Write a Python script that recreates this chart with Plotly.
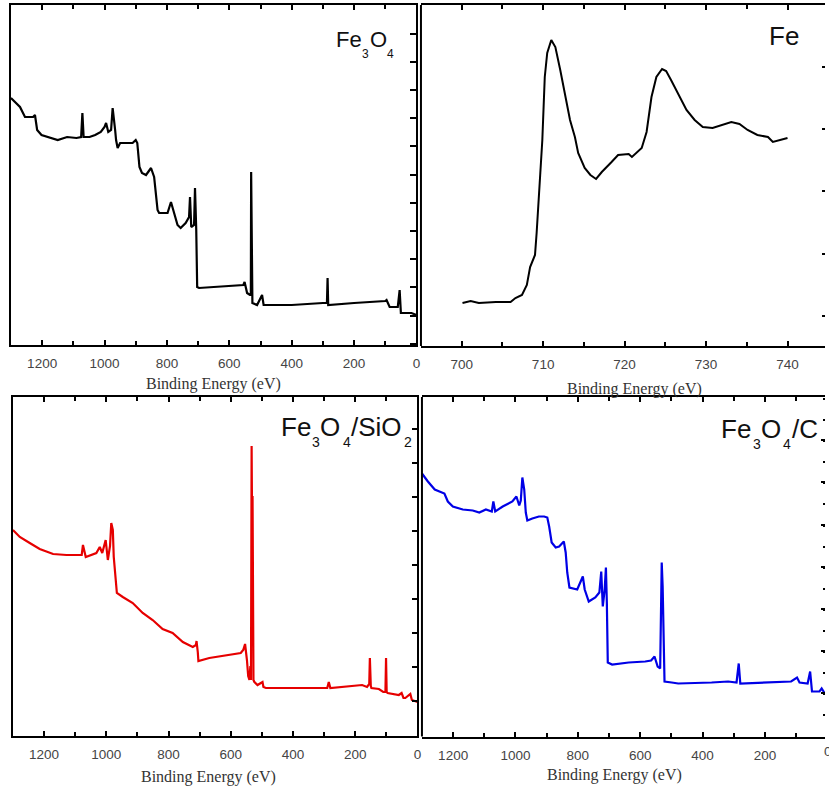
import plotly.graph_objects as go

W, H = 829, 792

# ---------------- data (binding energy in eV, intensity in a.u.) ----------------
fe3o4_be = [1300, 1285, 1271, 1255, 1240, 1229, 1223, 1216, 1202, 1180, 1150, 1120, 1090, 1075, 1071, 1067,
            1048, 1030, 1012, 1000, 995, 988, 979, 974, 970, 966, 963, 958, 950, 930, 910, 900, 895, 888,
            880, 867, 851, 841, 835, 830, 825, 810, 798, 787, 777, 766, 756, 740, 729, 726, 722, 713, 710,
            706, 703, 697, 650, 600, 570, 555, 551, 543, 534, 531, 530, 528, 526, 511, 495, 490, 400, 300,
            287, 285, 283, 200, 100, 96, 86, 60, 56, 54, 50, 30, 16, 0]
fe3o4_int = [247, 242, 238, 228, 228, 228, 230, 215, 210, 208, 205, 208, 207, 208, 232, 208,
             208, 210, 213, 218, 222, 213, 215, 237, 228, 215, 205, 197, 202, 202, 202, 205, 202, 178,
             172, 170, 177, 168, 150, 135, 132, 132, 132, 143, 132, 120, 117, 122, 128, 148, 118, 120, 157,
             115, 58, 57, 58, 59, 60, 60, 63, 52, 50, 50, 173, 60, 42, 40, 50, 40, 40, 42,
             42, 67, 40, 42, 44, 45, 38, 38, 47, 55, 32, 32, 32, 30]

fe2p_be = [700.1, 701.1, 702.1, 704.2, 706.0, 706.6, 707.4, 708.0, 708.4, 709.0, 709.2, 709.5, 709.9, 710.2,
           710.5, 711.0, 711.5, 712.1, 712.7, 713.3, 713.9, 714.3, 715.1, 715.8, 716.5, 717.2, 718.4, 719.2,
           720.5, 720.9, 722.1, 722.7, 723.3, 723.9, 724.6, 725.1, 725.7, 726.3, 726.9, 727.6, 728.6, 729.6,
           730.8, 731.9, 733.1, 734.1, 735.1, 736.3, 737.6, 738.2, 739.2, 740.0]
fe2p_int = [43, 45, 43, 44, 44, 48, 51, 61, 79, 91, 113, 156, 206, 269,
            293, 306, 299, 276, 249, 226, 209, 193, 178, 171, 167, 174, 184, 191,
            192, 189, 198, 214, 249, 269, 277, 275, 266, 256, 246, 236, 226, 219,
            218, 221, 224, 222, 216, 211, 209, 204, 206, 208]

sio2_be = [1300, 1278, 1246, 1214, 1171, 1128, 1085, 1079, 1075, 1066, 1032, 1021, 1013, 1002, 995, 988,
           984, 979, 976, 971, 966, 947, 915, 883, 851, 819, 787, 754, 722, 712, 710, 706, 704, 669, 616,
           568, 560, 554, 548, 544, 540, 537, 535, 534, 533, 532, 530, 529, 527, 524, 514, 498, 495, 487,
           381, 290, 285, 280, 178, 162, 155, 153, 150, 148, 124, 110, 103, 101, 99, 96, 60, 51, 45, 39,
           23, 18, 0]
sio2_int = [206, 199, 193, 187, 182, 181, 181, 181, 191, 179, 183, 189, 183, 196, 176, 190,
            213, 206, 179, 161, 143, 139, 133, 123, 116, 107, 103, 94, 89, 91, 95, 84, 75, 78, 81,
            83, 86, 92, 76, 60, 56, 70, 56, 290, 290, 239, 239, 150, 56, 54, 51, 54, 49, 48,
            48, 48, 54, 48, 51, 49, 52, 78, 50, 48, 47, 44, 44, 78, 44, 43, 41, 43, 38, 38,
            42, 36, 34]

c_be = [1300, 1281, 1259, 1228, 1217, 1201, 1169, 1137, 1116, 1095, 1076, 1071, 1065, 1041, 1010, 997,
        988, 983, 978, 972, 967, 962, 946, 925, 908, 898, 892, 884, 871, 860, 845, 839, 834, 827, 802,
        792, 784, 778, 765, 744, 731, 725, 720, 714, 710, 707, 704, 690, 637, 584, 565, 554, 544, 536,
        531, 528, 525, 522, 499, 478, 371, 318, 291, 284, 279, 212, 158, 116, 97, 89, 63, 55, 49, 25,
        18, 8, 0]
c_int = [263, 255, 247, 243, 235, 230, 227, 226, 224, 227, 225, 235, 225, 230, 235, 240,
         231, 236, 259, 247, 224, 216, 218, 220, 220, 219, 210, 194, 189, 190, 195, 184, 164, 149, 147,
         155, 160, 147, 135, 139, 144, 165, 130, 147, 169, 134, 74, 72, 74, 75, 76, 80, 70, 68,
         174, 150, 114, 55, 54, 53, 54, 55, 54, 73, 53, 54, 55, 55, 59, 54, 53, 65, 45, 45,
         48, 43, 43]

axis_title = "Binding Energy (eV)"
survey_ticks = [1200, 1000, 800, 600, 400, 200, 0]
fe2p_ticks = [700, 710, 720, 730, 740]


def px(x):
    return x / W


def py(y):
    return 1 - y / H


fig = go.Figure()
fig.add_trace(go.Scatter(x=fe3o4_be, y=fe3o4_int, mode="lines", line=dict(color="black", width=2.2),
                         xaxis="x", yaxis="y"))
fig.add_trace(go.Scatter(x=fe2p_be, y=fe2p_int, mode="lines", line=dict(color="black", width=2),
                         xaxis="x2", yaxis="y2"))
fig.add_trace(go.Scatter(x=sio2_be, y=sio2_int, mode="lines", line=dict(color="#e60000", width=2.2),
                         xaxis="x3", yaxis="y3"))
fig.add_trace(go.Scatter(x=c_be, y=c_int, mode="lines", line=dict(color="#0000e6", width=2.2),
                         xaxis="x4", yaxis="y4"))

tickfont = dict(family="Liberation Sans, Arial, sans-serif", size=13.5, color="#444")


def xax(dom, rng, tickvals, minor_dtick, anchor):
    return dict(domain=dom, range=rng, anchor=anchor, showgrid=False, zeroline=False,
                showline=True, linecolor="black", linewidth=2, mirror="ticks",
                ticks="inside", ticklen=5, tickwidth=1.5, tickcolor="black",
                tickmode="array", tickvals=tickvals, ticktext=[str(v) for v in tickvals],
                tickfont=tickfont, ticklabelstandoff=5,
                minor=dict(ticks="inside", dtick=minor_dtick, ticklen=4, tickwidth=1.5,
                           tickcolor="black", showgrid=False))


def yax(dom, rng, tick0, dtick, anchor, showline, ticklen, minor=None):
    d = dict(domain=dom, range=rng, anchor=anchor, side="right", showgrid=False, zeroline=False,
             showline=showline, linecolor="black", linewidth=2, mirror=showline,
             ticks="inside", ticklen=ticklen, tickwidth=1.5, tickcolor="black",
             tick0=tick0, dtick=dtick, showticklabels=False)
    if minor:
        d["minor"] = minor
    return d


fig.update_layout(
    width=W, height=H, margin=dict(l=0, r=0, t=0, b=0),
    paper_bgcolor="white", plot_bgcolor="white", showlegend=False,
    xaxis=xax([px(11), px(418.5)], [1300, 0], survey_ticks, 100, "y"),
    yaxis=yax([py(345), py(5)], [0, 340], 29.5, 28.2, "x", True, 6),
    xaxis2=xax([px(423), 1.0], [695, 695 + (829 - 423) / 8.185], fe2p_ticks, 5, "y2"),
    yaxis2=yax([py(346), py(5)], [0, 341], 30, 62.3, "x2", False, 3),
    xaxis3=xax([px(13), px(419.5)], [1300, 0], survey_ticks, 100, "y3"),
    yaxis3=yax([py(736), py(397)], [0, 339], 35, 34, "x3", True, 5),
    xaxis4=xax([px(424), 1.0], [1300, 1300 - (829 - 424) / 0.3133], survey_ticks[:-1], 100, "y4"),
    yaxis4=yax([py(736.5), py(397)], [0, 339.5], 1, 42.2, "x4", False, 4,
               minor=dict(ticks="inside", dtick=21.1, ticklen=2, tickwidth=1.5, tickcolor="black")),
)

# left borders of the right-hand panels
for xr, yr in (("x2", "y2"), ("x4", "y4")):
    fig.add_shape(type="line", xref=f"{xr} domain", yref=f"{yr} domain", x0=0, x1=0, y0=0, y1=1,
                  line=dict(color="black", width=2))

# axis titles
title_font = dict(family="Liberation Serif, Times New Roman, serif", size=16, color="#333")
for xc, yc in ((215, 384), (637.5, 389), (210, 777), (617, 775)):
    fig.add_annotation(text=axis_title, xref="paper", yref="paper", x=px(xc), y=py(yc),
                       xanchor="center", yanchor="middle", showarrow=False, font=title_font)

# clipped "0" tick label of the last panel
fig.add_annotation(text="0", xref="paper", yref="paper", x=px(831.6), y=py(751),
                   xanchor="center", yanchor="middle", showarrow=False, font=tickfont)

# sample labels (pieces: text, left x px, centre y px, font size)
lab_font = "Liberation Sans, Arial, sans-serif"
labels = [
    ("Fe", 337, 40, 22), ("3", 363, 54, 12), ("O", 370.5, 40, 22), ("4", 388, 54, 12),
    ("Fe", 771.5, 36, 26),
    ("Fe", 281.5, 426.5, 26), ("3", 313, 442, 14), ("O", 321, 426.5, 26), ("4", 344, 442, 14),
    ("/SiO", 352, 426.5, 26), ("2", 405, 442, 14),
    ("Fe", 723.5, 429, 26), ("3", 756, 443.5, 14), ("O", 764, 429, 26), ("4", 786, 443.5, 14),
    ("/C", 794.5, 429, 26),
]
for t, xl, yc, fs in labels:
    fig.add_annotation(text=t, xref="paper", yref="paper", x=px(xl), y=py(yc),
                       xanchor="left", yanchor="middle", showarrow=False, borderpad=0,
                       font=dict(family=lab_font, size=fs, color="#111"))

fig.write_html("out.html")
